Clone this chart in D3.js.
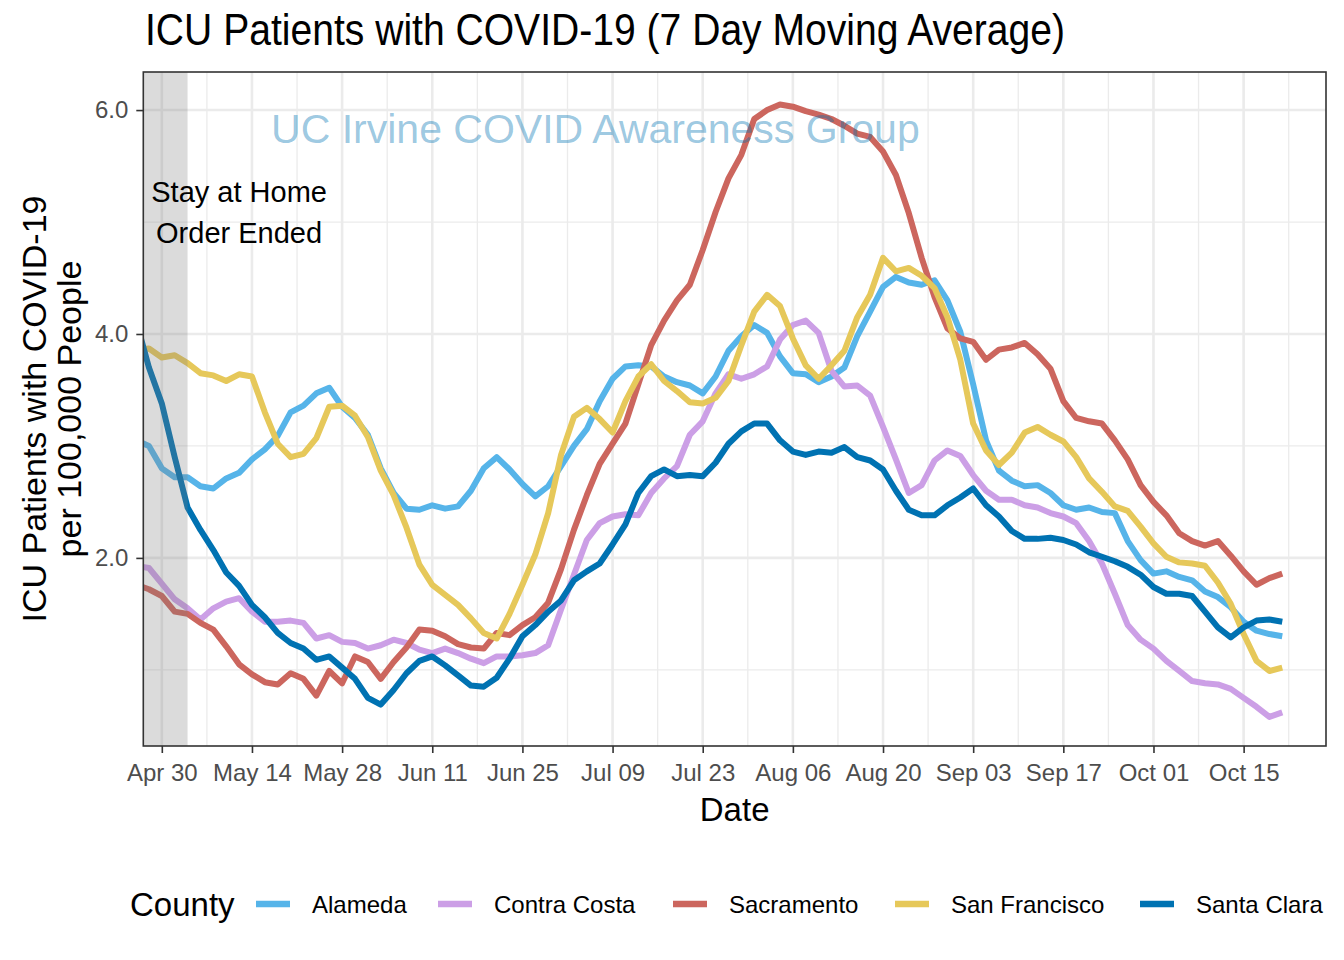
<!DOCTYPE html>
<html><head><meta charset="utf-8">
<script src="https://cdn.jsdelivr.net/npm/d3@7"></script>
<style>
body{margin:0;background:#fff;}
text{font-family:"Liberation Sans",Arial,Helvetica,sans-serif;}
</style>
</head><body><svg id="c" width="1344" height="960"></svg>
<script>
// ---------------- data ----------------
const counties = ["Alameda", "Contra Costa", "Sacramento", "San Francisco", "Santa Clara"];
const countyColors = ["#56B4E9", "#CC9FE6", "#CC665E", "#E6C85A", "#0072B2"];
const firstDate = "2020-04-26";   // one value every 2 days
const stepDays = 2;

const alameda = [3.05,3.00,2.80,2.72,2.72,2.64,2.62,2.71,2.76,2.88,
  2.97,3.09,3.30,3.36,3.47,3.52,3.35,3.25,3.10,2.80,
  2.58,2.44,2.43,2.47,2.44,2.46,2.60,2.80,2.90,2.79,
  2.66,2.55,2.64,2.82,3.00,3.15,3.40,3.60,3.71,3.72,
  3.71,3.62,3.57,3.54,3.47,3.62,3.85,3.98,4.08,4.01,
  3.80,3.65,3.64,3.57,3.62,3.70,3.98,4.20,4.42,4.51,
  4.46,4.44,4.48,4.30,4.02,3.55,3.05,2.78,2.69,2.64,
  2.65,2.58,2.47,2.43,2.45,2.41,2.40,2.15,1.98,1.86,
  1.88,1.83,1.80,1.70,1.65,1.56,1.43,1.35,1.32,1.30];
const contraCosta = [1.93,1.91,1.77,1.63,1.55,1.45,1.55,1.61,1.64,1.52,
  1.43,1.43,1.44,1.42,1.28,1.31,1.25,1.24,1.19,1.22,
  1.27,1.24,1.18,1.15,1.19,1.15,1.10,1.06,1.12,1.12,
  1.13,1.15,1.22,1.54,1.85,2.16,2.31,2.37,2.39,2.38,
  2.58,2.71,2.82,3.10,3.22,3.47,3.64,3.60,3.64,3.71,
  3.95,4.08,4.12,4.01,3.67,3.53,3.54,3.45,3.17,2.88,
  2.58,2.65,2.87,2.96,2.91,2.74,2.60,2.52,2.52,2.47,
  2.45,2.40,2.37,2.31,2.15,1.95,1.68,1.40,1.27,1.19,
  1.08,0.99,0.90,0.88,0.87,0.83,0.75,0.67,0.58,0.62];
const sacramento = [1.76,1.72,1.66,1.52,1.50,1.42,1.36,1.21,1.05,0.96,
  0.89,0.87,0.97,0.92,0.77,0.99,0.88,1.12,1.07,0.92,
  1.07,1.20,1.36,1.35,1.30,1.23,1.20,1.19,1.33,1.31,
  1.40,1.47,1.60,1.90,2.25,2.56,2.84,3.02,3.20,3.55,
  3.90,4.12,4.30,4.44,4.75,5.09,5.39,5.60,5.92,6.00,
  6.05,6.03,5.99,5.96,5.92,5.86,5.79,5.76,5.63,5.42,
  5.08,4.68,4.33,4.05,3.96,3.93,3.77,3.86,3.88,3.92,
  3.82,3.69,3.40,3.25,3.22,3.20,3.05,2.88,2.65,2.50,
  2.38,2.22,2.15,2.11,2.15,2.02,1.88,1.76,1.82,1.86];
const sanFrancisco = [3.86,3.87,3.79,3.81,3.74,3.65,3.63,3.58,3.64,3.62,
  3.30,3.02,2.90,2.93,3.07,3.35,3.36,3.27,3.08,2.78,
  2.56,2.27,1.94,1.76,1.67,1.58,1.46,1.33,1.28,1.50,
  1.76,2.03,2.40,2.92,3.26,3.34,3.24,3.12,3.40,3.62,
  3.73,3.58,3.49,3.39,3.38,3.43,3.58,3.90,4.20,4.35,
  4.25,3.96,3.72,3.60,3.72,3.85,4.15,4.35,4.68,4.56,
  4.59,4.52,4.41,4.15,3.77,3.20,2.96,2.83,2.94,3.12,
  3.17,3.10,3.04,2.90,2.71,2.59,2.46,2.42,2.28,2.13,
  2.01,1.96,1.95,1.93,1.78,1.59,1.32,1.08,0.99,1.02];
const santaClara = [4.12,3.70,3.38,2.90,2.45,2.25,2.07,1.87,1.75,1.58,
  1.47,1.33,1.24,1.19,1.09,1.12,1.02,0.92,0.75,0.69,
  0.82,0.97,1.08,1.12,1.04,0.95,0.86,0.85,0.93,1.10,
  1.30,1.40,1.52,1.62,1.80,1.88,1.95,2.12,2.30,2.58,
  2.73,2.79,2.73,2.74,2.73,2.85,3.02,3.13,3.20,3.20,
  3.05,2.95,2.92,2.95,2.94,2.99,2.90,2.87,2.79,2.60,
  2.43,2.38,2.38,2.47,2.54,2.62,2.47,2.37,2.24,2.17,
  2.17,2.18,2.16,2.12,2.05,2.01,1.97,1.92,1.85,1.74,
  1.68,1.68,1.66,1.52,1.38,1.29,1.38,1.44,1.45,1.43];
const seriesValues = [alameda, contraCosta, sacramento, sanFrancisco, santaClara];

const xTickDates = ["2020-04-30","2020-05-14","2020-05-28","2020-06-11","2020-06-25","2020-07-09",
  "2020-07-23","2020-08-06","2020-08-20","2020-09-03","2020-09-17","2020-10-01","2020-10-15"];
const yTickValues = [2, 4, 6];
const yMinorValues = [1, 3, 5];
const xDomain = ["2020-04-27T03:00", "2020-10-27T19:00"];
const yDomain = [0.32, 6.34];
const shadeEnd = "2020-05-04";
const titleText = "ICU Patients with COVID-19  (7 Day Moving Average)";
const yTitle = ["ICU Patients with COVID-19", "per 100,000 People"];
const xTitle = "Date";
const legendTitle = "County";
const noteLines = ["Stay at Home", "Order Ended"];
const noteDate = "2020-05-12";
const noteY = [5.18, 4.81];
const watermark = "UC Irvine COVID Awareness Group";
const watermarkDate = "2020-07-06T08:00";
const watermarkY = 5.705;

// ---------------- chart ----------------
const svg = d3.select("#c");
svg.append("rect").attr("width", 1344).attr("height", 960).attr("fill", "#fff");

const P = {left: 143.3, right: 1326, top: 72, bottom: 746};
const parse = d3.utcParse("%Y-%m-%d");
const parseT = d3.utcParse("%Y-%m-%dT%H:%M");
const x = d3.scaleUtc().domain(xDomain.map(parseT)).range([P.left, P.right]);
const y = d3.scaleLinear().domain(yDomain).range([P.bottom, P.top]);

const start = parse(firstDate);
const dates = d3.range(alameda.length).map(i => d3.utcDay.offset(start, i * stepDays));

svg.append("defs").append("clipPath").attr("id", "clip")
  .append("rect").attr("x", P.left).attr("y", P.top)
  .attr("width", P.right - P.left).attr("height", P.bottom - P.top);

const xTicks = xTickDates.map(parse);
const xMinor = [];
for (let t = d3.utcDay.offset(xTicks[0], -7); t <= x.domain()[1]; t = d3.utcDay.offset(t, 14)) {
  if (t >= x.domain()[0]) xMinor.push(t);
}

const grid = svg.append("g");
grid.selectAll(".ymin").data(yMinorValues).join("line")
  .attr("x1", P.left).attr("x2", P.right).attr("y1", d => y(d)).attr("y2", d => y(d))
  .attr("stroke", "#EBEBEB").attr("stroke-width", 1.3);
grid.selectAll(".xmin").data(xMinor).join("line")
  .attr("y1", P.top).attr("y2", P.bottom).attr("x1", d => x(d)).attr("x2", d => x(d))
  .attr("stroke", "#EBEBEB").attr("stroke-width", 1.3);
grid.selectAll(".ymaj").data(yTickValues).join("line")
  .attr("x1", P.left).attr("x2", P.right).attr("y1", d => y(d)).attr("y2", d => y(d))
  .attr("stroke", "#EBEBEB").attr("stroke-width", 2.6);
grid.selectAll(".xmaj").data(xTicks).join("line")
  .attr("y1", P.top).attr("y2", P.bottom).attr("x1", d => x(d)).attr("x2", d => x(d))
  .attr("stroke", "#EBEBEB").attr("stroke-width", 2.6);

// lines
const line = d3.line().x((d, i) => x(dates[i])).y(d => y(d));
const lg = svg.append("g").attr("clip-path", "url(#clip)");
seriesValues.forEach((vals, k) => {
  lg.append("path").datum(vals).attr("d", line)
    .attr("fill", "none").attr("stroke", countyColors[k]).attr("stroke-width", 6)
    .attr("stroke-linejoin", "round").attr("stroke-linecap", "butt");
});

// shaded period
svg.append("rect").attr("x", P.left).attr("y", P.top)
  .attr("width", x(parse(shadeEnd)) - P.left).attr("height", P.bottom - P.top)
  .attr("fill", "#7F7F7F").attr("fill-opacity", 0.28);

// annotation
noteLines.forEach((t, i) => {
  svg.append("text").attr("x", x(parse(noteDate))).attr("y", y(noteY[i]))
    .attr("text-anchor", "middle").attr("font-size", 29).attr("fill", "#000").text(t);
});

// watermark
svg.append("text").attr("x", x(parseT(watermarkDate))).attr("y", y(watermarkY))
  .attr("text-anchor", "middle").attr("font-size", 41)
  .attr("fill", "#0072B2").attr("fill-opacity", 0.4).text(watermark);

// panel border
svg.append("rect").attr("x", P.left).attr("y", P.top)
  .attr("width", P.right - P.left).attr("height", P.bottom - P.top)
  .attr("fill", "none").attr("stroke", "#333333").attr("stroke-width", 1.6);

// axes
const fmt = d3.utcFormat("%b %d");
const xa = svg.append("g").attr("transform", `translate(0,${P.bottom})`)
  .call(d3.axisBottom(x).tickValues(xTicks).tickFormat(fmt).tickSize(7).tickPadding(11));
xa.select(".domain").remove();
xa.selectAll(".tick line").attr("stroke", "#333333").attr("stroke-width", 1.6);
xa.selectAll(".tick text").attr("font-size", 24).attr("fill", "#4D4D4D")
  .attr("font-family", '"Liberation Sans",Arial,sans-serif').attr("dy", "0.71em");

const ya = svg.append("g").attr("transform", `translate(${P.left},0)`)
  .call(d3.axisLeft(y).tickValues(yTickValues).tickFormat(d3.format(".1f")).tickSize(7).tickPadding(8));
ya.select(".domain").remove();
ya.selectAll(".tick line").attr("stroke", "#333333").attr("stroke-width", 1.6);
ya.selectAll(".tick text").attr("font-size", 24).attr("fill", "#4D4D4D")
  .attr("font-family", '"Liberation Sans",Arial,sans-serif');

// titles
svg.append("text").attr("x", 145).attr("y", 45).attr("font-size", 44)
  .attr("textLength", 920).attr("lengthAdjust", "spacingAndGlyphs")
  .attr("fill", "#000").text(titleText);

svg.append("text").attr("x", (P.left + P.right) / 2).attr("y", 821)
  .attr("text-anchor", "middle").attr("font-size", 33).attr("fill", "#000").text(xTitle);

const yt = svg.append("g").attr("transform", `translate(0,${(P.top + P.bottom) / 2})`);
yTitle.forEach((t, i) => {
  yt.append("text").attr("transform", `translate(${46 + i * 35},0) rotate(-90)`)
    .attr("text-anchor", "middle").attr("font-size", 34).attr("fill", "#000").text(t);
});

// legend
const legendKeyX = [256, 438, 673, 895, 1140];
const leg = svg.append("g");
leg.append("text").attr("x", 130).attr("y", 916).attr("font-size", 33)
  .attr("fill", "#000").text(legendTitle);
counties.forEach((c, k) => {
  leg.append("line").attr("x1", legendKeyX[k]).attr("x2", legendKeyX[k] + 34).attr("y1", 904).attr("y2", 904)
    .attr("stroke", countyColors[k]).attr("stroke-width", 6.5);
  leg.append("text").attr("x", legendKeyX[k] + 56).attr("y", 912.5).attr("font-size", 24)
    .attr("fill", "#000").text(c);
});
</script>
</body></html>
